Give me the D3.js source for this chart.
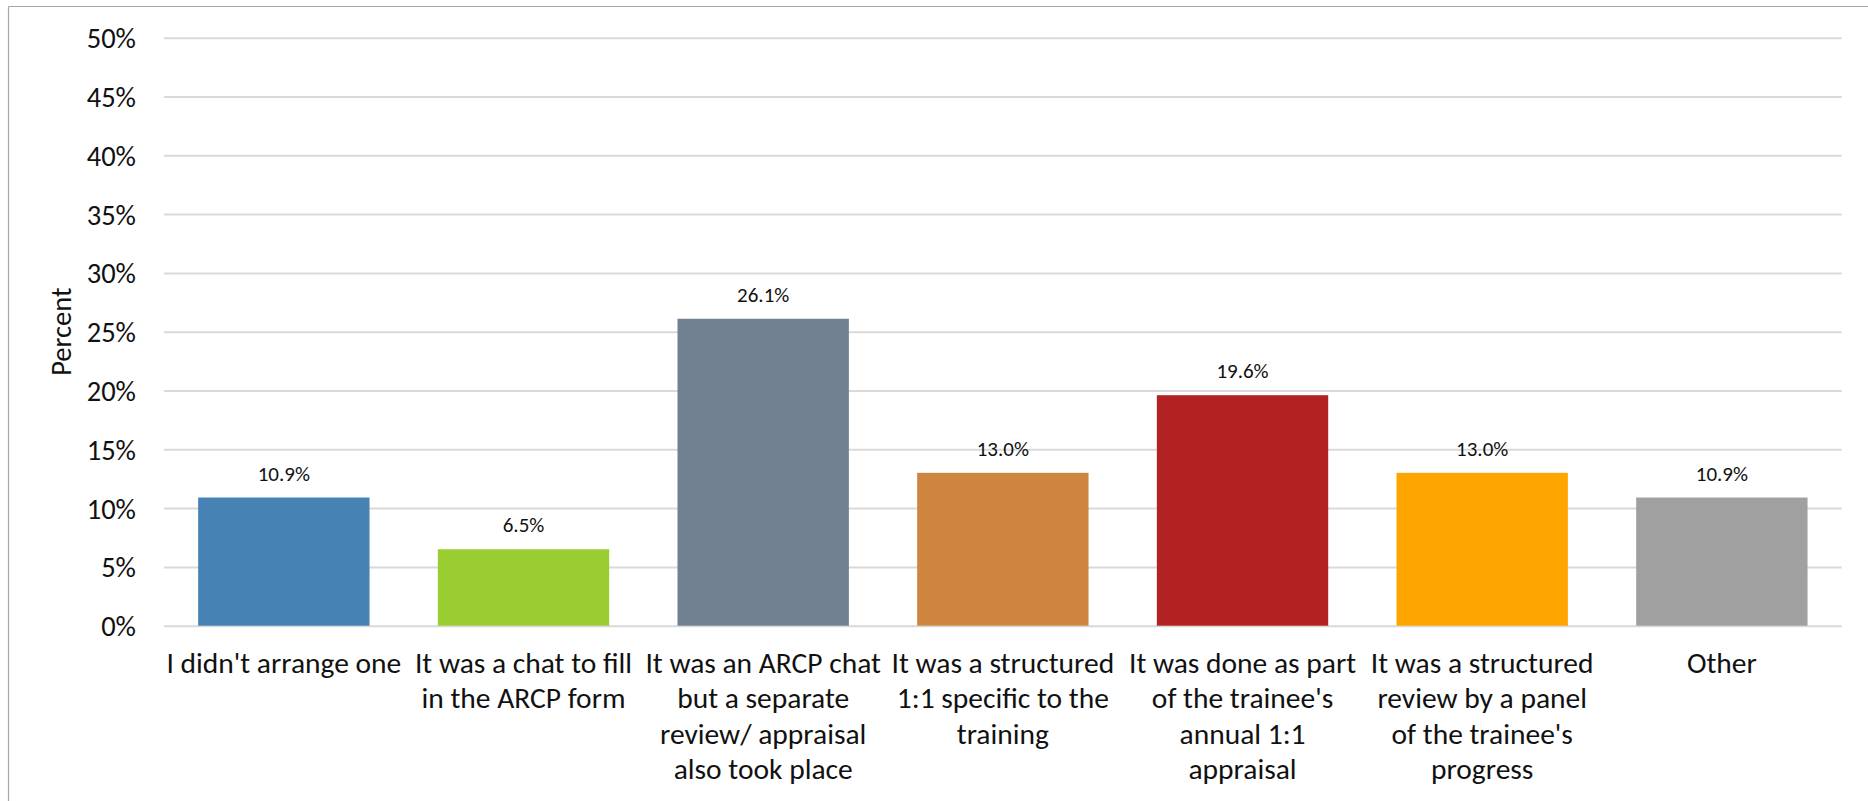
<!DOCTYPE html>
<html>
<head>
<meta charset="utf-8">
<script src="https://cdn.jsdelivr.net/npm/d3@7"></script>
<style>
  body { margin: 0; background: #fff; }
  svg { display: block; }
  text { font-family: Carlito, Calibri, Lato, sans-serif; fill: #111; }
</style>
</head>
<body>
<svg id="chart"></svg>
<script>
// chart data
var categories = [
  "I didn't arrange one",
  "It was a chat to fill in the ARCP form",
  "It was an ARCP chat but a separate review/ appraisal also took place",
  "It was a structured 1:1 specific to the training",
  "It was done as part of the trainee's annual 1:1 appraisal",
  "It was a structured review by a panel of the trainee's progress",
  "Other"
];
var categoryLines = [
  ["I didn't arrange one"],
  ["It was a chat to fill", "in the ARCP form"],
  ["It was an ARCP chat", "but a separate", "review/ appraisal", "also took place"],
  ["It was a structured", "1:1 specific to the", "training"],
  ["It was done as part", "of the trainee's", "annual 1:1", "appraisal"],
  ["It was a structured", "review by a panel", "of the trainee's", "progress"],
  ["Other"]
];
var percents = [10.9, 6.5, 26.1, 13.0, 19.6, 13.0, 10.9];
var barColors = ["#4682B4", "#9ACD32", "#708090", "#CD853F", "#B22222", "#FFA500", "#A0A0A0"];
var yTicks = [0, 5, 10, 15, 20, 25, 30, 35, 40, 45, 50];

function init(){
    var width = 1868,
        height = 801;
    var margin = {top: 37.7, left: 164, right: 26.3, bottom: 175.3};
    var plotW = width - margin.left - margin.right,
        plotH = height - margin.top - margin.bottom;

    var svg = d3.select('svg#chart')
      .attr('width', width)
      .attr('height', height);

    // chart frame (only top and left edges show in the picture)
    svg.append('line')
      .attr('x1', 8.5).attr('y1', 6.5).attr('x2', width).attr('y2', 6.5)
      .attr('stroke', '#a6a6a6').attr('stroke-width', 1.2);
    svg.append('line')
      .attr('x1', 8.5).attr('y1', 6.5).attr('x2', 8.5).attr('y2', height)
      .attr('stroke', '#a6a6a6').attr('stroke-width', 1.2);

    var g = svg.append('g')
      .attr('transform', 'translate(' + margin.left + ',' + margin.top + ')');

    var x = d3.scaleBand()
      .domain(categories)
      .range([0, plotW])
      .paddingInner(0.285)
      .paddingOuter(0.1425);

    var y = d3.scaleLinear()
      .domain([0, 50])
      .range([plotH, 0]);

    // y axis + gridlines
    var yAxis = g.append('g')
      .call(d3.axisLeft(y)
        .tickValues(yTicks)
        .tickSize(-plotW)
        .tickPadding(28)
        .tickFormat(function(d){ return d + '%'; }));
    yAxis.select('.domain').remove();
    yAxis.selectAll('.tick line')
      .attr('stroke', '#d9d9d9')
      .attr('stroke-width', 2);
    yAxis.selectAll('.tick text')
      .style('font-size', '28.5px')
      .attr('dy', '0.35em');

    // bars
    g.selectAll('rect.bar')
        .data(percents)
      .enter().append('rect')
        .attr('class', 'bar')
        .attr('x', function(d, i){ return x(categories[i]); })
        .attr('y', function(d){ return y(d); })
        .attr('width', x.bandwidth())
        .attr('height', function(d){ return plotH - y(d); })
        .attr('fill', function(d, i){ return barColors[i]; });

    // value labels
    g.selectAll('text.value')
        .data(percents)
      .enter().append('text')
        .attr('class', 'value')
        .attr('x', function(d, i){ return x(categories[i]) + x.bandwidth() / 2; })
        .attr('y', function(d){ return y(d) - 17; })
        .attr('text-anchor', 'middle')
        .style('font-size', '21px')
        .text(function(d){ return d3.format('.1f')(d) + '%'; });

    // category labels, wrapped like the original
    var xAxis = g.append('g')
      .attr('transform', 'translate(0,' + plotH + ')')
      .call(d3.axisBottom(x).tickSize(0).tickFormat(''));
    xAxis.select('.domain').remove();
    xAxis.selectAll('.tick').each(function(d, i){
        var t = d3.select(this).select('text')
          .attr('y', 47)
          .attr('dy', null)
          .attr('text-anchor', 'middle')
          .style('font-size', '29.5px');
        categoryLines[i].forEach(function(line, k){
            t.append('tspan')
              .attr('x', 0)
              .attr('y', 47 + k * 35.5)
              .text(line);
        });
    });

    // y axis title
    svg.append('text')
      .attr('transform', 'translate(70.5,331.7) rotate(-90)')
      .attr('text-anchor', 'middle')
      .style('font-size', '28.5px')
      .text('Percent');
}

init();
</script>
</body>
</html>
